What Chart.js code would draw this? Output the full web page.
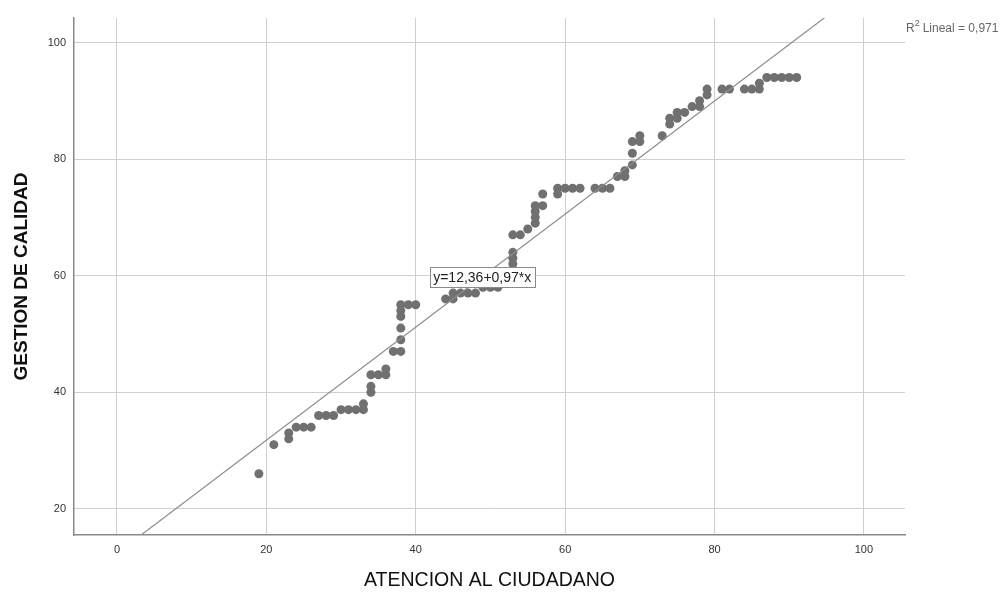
<!DOCTYPE html>
<html>
<head>
<meta charset="utf-8">
<script src="https://cdn.jsdelivr.net/npm/chart.js@4.4.1/dist/chart.umd.min.js"></script>
<style>
  html, body { margin: 0; padding: 0; background: #fff; }
  #wrap { width: 1004px; height: 592px; }
</style>
</head>
<body>
<div id="wrap"><canvas id="scatter" width="1004" height="592"></canvas></div>
<script>
// ATENCION AL CIUDADANO (x) vs GESTION DE CALIDAD (y)
const atencion = [19, 21, 23, 23, 24, 25, 26, 27, 28, 29, 30, 31, 32, 33, 33, 34, 34, 34, 35, 36, 36,
  37, 38, 38, 38, 38, 38, 38, 39, 40, 44, 45, 45, 46, 47, 48, 49, 50, 51, 53, 53, 53, 53, 53, 54,
  55, 56, 56, 56, 56, 57, 57, 59, 59, 60, 61, 62, 64, 65, 66, 67, 68, 68, 69, 69, 69, 70, 70, 73,
  74, 74, 75, 75, 76, 77, 78, 78, 79, 79, 81, 82, 84, 85, 86, 86, 87, 88, 89, 90, 91];
const gestion = [26, 31, 32, 33, 34, 34, 34, 36, 36, 36, 37, 37, 37, 37, 38, 40, 41, 43, 43, 43, 44,
  47, 47, 49, 51, 53, 54, 55, 55, 55, 56, 56, 57, 57, 57, 57, 58, 58, 58, 60, 62, 63, 64, 67, 67,
  68, 69, 70, 71, 72, 72, 74, 74, 75, 75, 75, 75, 75, 75, 75, 77, 77, 78, 79, 81, 83, 83, 84, 84,
  86, 87, 87, 88, 88, 89, 89, 90, 91, 92, 92, 92, 92, 92, 92, 93, 94, 94, 94, 94, 94];

// fit line reported on the chart
const intercept = 12.36;
const slope = 0.97;
const fitLabel = 'y=12,36+0,97*x';
const r2Label = 'Lineal = 0,971';

const xTicks = [0, 20, 40, 60, 80, 100];
const yTicks = [20, 40, 60, 80, 100];
const xRange = [-5.75, 105.5];
const yRange = [15.5, 104.2];

const FONT = 'Arial, "Liberation Sans", sans-serif';

const points = atencion.map((x, i) => ({ x, y: gestion[i] }));
const fitLine = xRange.map(x => ({ x, y: intercept + slope * x }));

// equation box + R² note
const annotations = {
  id: 'annotations',
  afterDatasetsDraw(chart) {
    const { ctx, scales: { x, y } } = chart;
    ctx.save();
    ctx.font = '14px ' + FONT;
    ctx.textBaseline = 'middle';
    ctx.textAlign = 'center';
    const cx = x.getPixelForValue(48.9);
    const cy = y.getPixelForValue(59.8);
    const w = Math.round(ctx.measureText(fitLabel).width + 7);
    const bx = Math.round(cx - w / 2) + 0.5, by = Math.round(cy - 10) + 0.5;
    ctx.fillStyle = '#fff';
    ctx.fillRect(bx, by, w, 20);
    ctx.strokeStyle = '#8a8a8a';
    ctx.lineWidth = 1;
    ctx.strokeRect(bx, by, w, 20);
    ctx.fillStyle = '#222';
    ctx.fillText(fitLabel, cx, cy + 1);

    // R² Lineal
    ctx.fillStyle = '#666';
    ctx.textAlign = 'left';
    ctx.font = '12px ' + FONT;
    ctx.fillText('R', 906, 29);
    const rw = ctx.measureText('R').width;
    ctx.font = '9px ' + FONT;
    ctx.fillText('2', 906 + rw, 24);
    ctx.font = '12px ' + FONT;
    ctx.fillText(r2Label, 906 + rw + 8, 29);
    ctx.restore();
  }
};

new Chart(document.getElementById('scatter'), {
  type: 'scatter',
  data: {
    datasets: [
      {
        data: points,
        backgroundColor: '#707070',
        borderWidth: 0,
        pointRadius: 4.5,
        pointHoverRadius: 4.5,
        order: 2,
      },
      {
        type: 'line',
        data: fitLine,
        borderColor: '#8c8c8c',
        borderWidth: 1.2,
        pointRadius: 0,
        fill: false,
        clip: 0,
        order: 1,
      },
    ],
  },
  options: {
    responsive: false,
    animation: false,
    events: [],
    layout: { padding: { top: 18, right: 99, left: 0, bottom: 0 } },
    plugins: { legend: { display: false }, tooltip: { enabled: false } },
    scales: {
      x: {
        type: 'linear',
        min: xRange[0],
        max: xRange[1],
        afterBuildTicks: s => { s.ticks = xTicks.map(v => ({ value: v })); },
        afterFit: s => { s.height = 57; },
        ticks: { color: '#333', font: { size: 11, family: FONT }, padding: 8 },
        grid: { color: '#cfcfcf', lineWidth: 1, drawTicks: false },
        border: { color: '#8a8a8a', width: 1.5 },
        title: {
          display: true,
          text: 'ATENCION AL CIUDADANO',
          color: '#111',
          font: { size: 19.5, family: FONT },
          padding: { top: 0, bottom: 0 },
        },
      },
      y: {
        type: 'linear',
        min: yRange[0],
        max: yRange[1],
        afterBuildTicks: s => { s.ticks = yTicks.map(v => ({ value: v })); },
        afterFit: s => { s.width = 74; },
        ticks: { color: '#333', font: { size: 11, family: FONT }, padding: 8 },
        grid: { color: '#cfcfcf', lineWidth: 1, drawTicks: false },
        border: { color: '#8a8a8a', width: 1.5 },
        title: {
          display: true,
          text: 'GESTION DE CALIDAD',
          color: '#111',
          font: { size: 19, family: FONT, weight: 'bold' },
          padding: { top: 10, bottom: 0 },
        },
      },
    },
  },
  plugins: [annotations],
});
</script>
</body>
</html>
